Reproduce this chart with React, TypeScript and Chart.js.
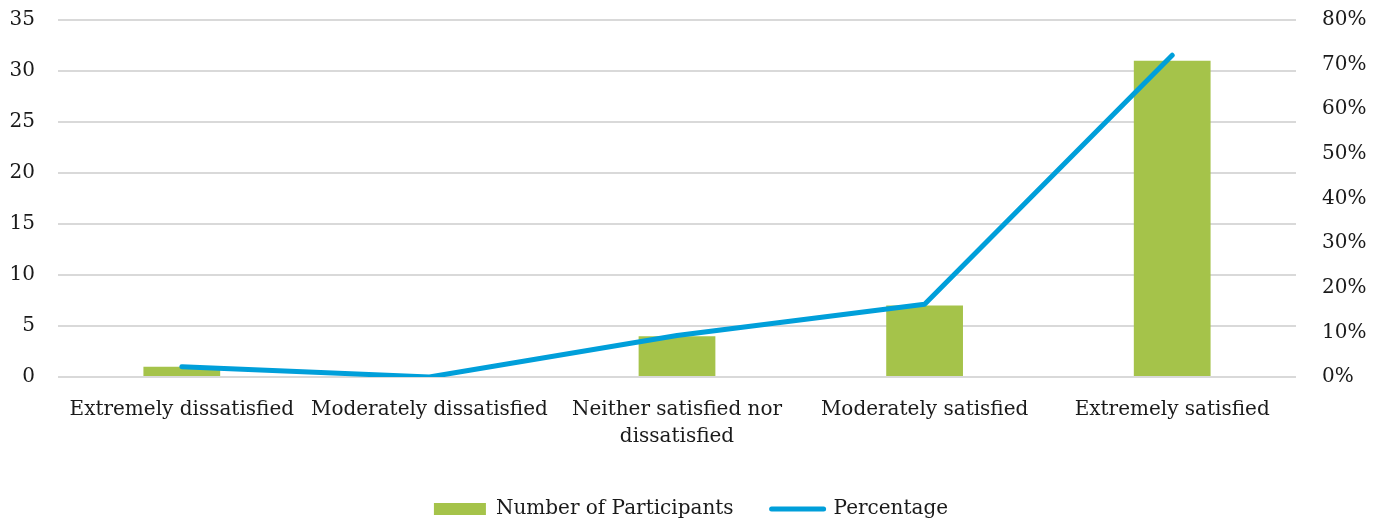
import React, { useEffect, useRef } from "react";
import { Chart, registerables } from "chart.js";

Chart.register(...registerables);

const categories: (string | string[])[] = [
  "Extremely dissatisfied",
  "Moderately dissatisfied",
  ["Neither satisfied nor", "dissatisfied"],
  "Moderately satisfied",
  "Extremely satisfied",
];
const participants = [1, 0, 4, 7, 31];
const percentage = [0.023, 0, 0.093, 0.163, 0.721];
const leftTicks = [0, 5, 10, 15, 20, 25, 30, 35];
const rightTicks = [0, 0.1, 0.2, 0.3, 0.4, 0.5, 0.6, 0.7, 0.8];

const FONT = "'DejaVu Serif', serif";
const TEXT = "#1a1a1a";
const GREEN = "#A5C34A";
const BLUE = "#009FDA";

export default function App() {
  const ref = useRef<HTMLCanvasElement | null>(null);
  useEffect(() => {
    if (!ref.current) return;
    const chart = new Chart(ref.current, {
      data: {
        labels: categories,
        datasets: [
          {
            type: "bar",
            label: "Number of Participants",
            data: participants,
            backgroundColor: GREEN,
            borderWidth: 0,
            yAxisID: "y",
            order: 1,
            barPercentage: 0.31,
            categoryPercentage: 1,
          },
          {
            type: "line",
            label: "Percentage",
            data: percentage,
            borderColor: BLUE,
            backgroundColor: BLUE,
            borderWidth: 5,
            borderCapStyle: "round",
            borderJoinStyle: "round",
            pointRadius: 0,
            tension: 0,
            yAxisID: "y1",
            order: 0,
          },
        ],
      },
      options: {
        animation: false,
        responsive: true,
        maintainAspectRatio: false,
        layout: { padding: { top: 20, left: 10, right: 20, bottom: -3 } },
        plugins: {
          tooltip: { enabled: false },
          legend: {
            position: "bottom",
            labels: {
              usePointStyle: true,
              pointStyleWidth: 52,
              boxHeight: 12,
              padding: 38,
              color: TEXT,
              font: { family: FONT, size: 20 },
              sort: (a: any, b: any) => a.datasetIndex - b.datasetIndex,
              generateLabels: (c: any) => {
                const items = Chart.defaults.plugins.legend.labels.generateLabels(c);
                return items.map((it: any) => {
                  if (it.datasetIndex === 0) {
                    return { ...it, pointStyle: "rect", lineWidth: 0, fillStyle: GREEN, strokeStyle: GREEN };
                  }
                  return { ...it, pointStyle: "line", lineWidth: 5, strokeStyle: BLUE, fillStyle: BLUE, lineCap: "round" };
                });
              },
            },
          },
        },
        scales: {
          x: {
            grid: { display: false, drawTicks: false },
            border: { display: false },
            ticks: {
              color: TEXT,
              font: { family: FONT, size: 20, lineHeight: 1.35 },
              maxRotation: 0,
              autoSkip: false,
              padding: 19,
            },
            afterFit: (s: any) => {
              s.height = 84;
            },
          },
          y: {
            position: "left",
            min: 0,
            max: 35,
            afterBuildTicks: (s: any) => {
              s.ticks = leftTicks.map((v) => ({ value: v }));
            },
            grid: {
              color: "#D9D9D9",
              lineWidth: 2,
              drawTicks: true,
              tickLength: 23,
              tickColor: "rgba(0,0,0,0)",
            },
            border: { display: false },
            ticks: { color: TEXT, font: { family: FONT, size: 20 }, padding: 0 },
            afterFit: (s: any) => {
              s.width = 48;
            },
          },
          y1: {
            position: "right",
            min: 0,
            max: 0.8,
            afterBuildTicks: (s: any) => {
              s.ticks = rightTicks.map((v) => ({ value: v }));
            },
            grid: { display: false, drawTicks: true, tickLength: 26, tickColor: "rgba(0,0,0,0)" },
            border: { display: false },
            ticks: {
              color: TEXT,
              font: { family: FONT, size: 20 },
              padding: 0,
              callback: (v: any) => Math.round(Number(v) * 100) + "%",
            },
            afterFit: (s: any) => {
              s.width = 76;
            },
          },
        },
      },
    } as any);
    return () => chart.destroy();
  }, []);
  return (
    <div style={{ position: "fixed", left: 0, top: 0, width: 1392, height: 526, background: "#fff" }}>
      <canvas ref={ref} />
    </div>
  );
}
